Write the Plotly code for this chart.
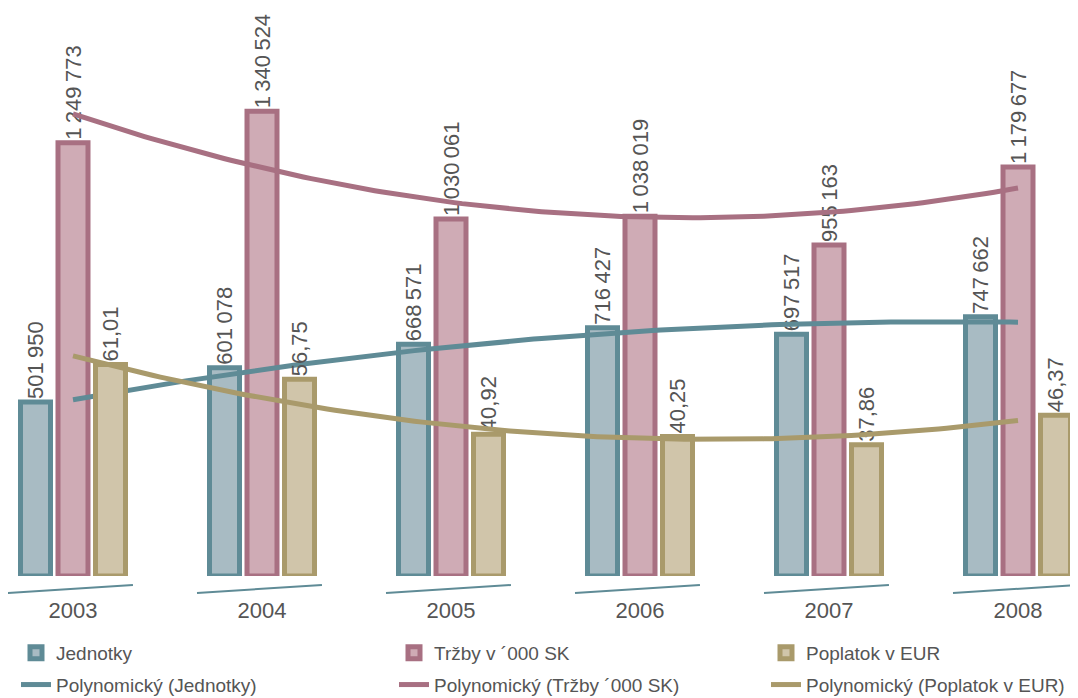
import numpy as np
import plotly.graph_objects as go

# ---------------- data ----------------
years = ["2003", "2004", "2005", "2006", "2007", "2008"]
jednotky = [501950, 601078, 668571, 716427, 697517, 747662]
trzby = [1249773, 1340524, 1030061, 1038019, 955163, 1179677]
poplatok = [61.01, 56.75, 40.92, 40.25, 37.86, 46.37]

name_j = "Jednotky"
name_t = "Tržby v \u00b4000 SK"
name_p = "Poplatok v EUR"
name_pj = "Polynomický (Jednotky)"
name_pt = "Polynomický (Tržby \u00b4000 SK)"
name_pp = "Polynomický (Poplatok v EUR)"

# ---------------- styles ----------------
TEAL_L, TEAL_F = "#5f8b96", "#a8bbc3"
PINK_L, PINK_F = "#a87082", "#cfabb5"
TAN_L, TAN_F = "#a99a6b", "#d0c5aa"
TXT = "#555555"
FONT = "Liberation Sans, Arial, sans-serif"

# page offset of the figure (browser body margin)
OFF = 8
W, H = 1078 - OFF, 698 - OFF
BASE = 576 - OFF        # baseline (plot bottom) in figure px
PLOT_H = BASE           # top margin 0
PX_PER_UNIT = 189       # px per category
CX0 = 73 - OFF          # centre of first category in figure px
Y_MAX = PLOT_H * 2885   # primary axis range top
Y2_MAX = Y_MAX / 10000  # secondary axis range top

x = np.arange(len(years))
BAR_W = 30 / PX_PER_UNIT
PITCH = 37.5 / PX_PER_UNIT


def fmt_int(v):
    return f"{v:,}".replace(",", "\u2009")


def fmt_dec(v):
    return f"{v:.2f}".replace(".", ",")


def trend(vals):
    coef = np.polyfit(x, vals, 2)
    xs = np.linspace(0, len(years) - 1, 120)
    return xs, np.polyval(coef, xs)


def py(ref_y):
    """reference page y (px) -> paper y of plot area"""
    return (PLOT_H - (ref_y - OFF)) / PLOT_H


fig = go.Figure()

bar_common = dict(width=BAR_W, textposition="outside", textangle=-90,
                  constraintext="none", cliponaxis=False,
                  textfont=dict(family=FONT, size=22, color=TXT),
                  hoverinfo="skip")

fig.add_trace(go.Bar(x=x, y=jednotky, name=name_j, offset=-PITCH - BAR_W / 2,
                     marker=dict(color=TEAL_F, line=dict(color=TEAL_L, width=5)),
                     text=[fmt_int(v) for v in jednotky], legend="legend",
                     legendgroup="a", **bar_common))
fig.add_trace(go.Bar(x=x, y=trzby, name=name_t, offset=-BAR_W / 2,
                     marker=dict(color=PINK_F, line=dict(color=PINK_L, width=5)),
                     text=[fmt_int(v) for v in trzby], legend="legend2",
                     legendgroup="c", **bar_common))
fig.add_trace(go.Bar(x=x, y=poplatok, name=name_p, offset=PITCH - BAR_W / 2,
                     marker=dict(color=TAN_F, line=dict(color=TAN_L, width=5)),
                     text=[fmt_dec(v) for v in poplatok], legend="legend3",
                     legendgroup="e", yaxis="y2", **bar_common))

xs, ys = trend(jednotky)
fig.add_trace(go.Scatter(x=xs, y=ys, mode="lines", name=name_pj, legend="legend",
                         legendgroup="b", line=dict(color=TEAL_L, width=5),
                         hoverinfo="skip"))
xs, ys = trend(trzby)
fig.add_trace(go.Scatter(x=xs, y=ys, mode="lines", name=name_pt, legend="legend2",
                         legendgroup="d", line=dict(color=PINK_L, width=5),
                         hoverinfo="skip"))
xs, ys = trend(poplatok)
fig.add_trace(go.Scatter(x=xs, y=ys, mode="lines", name=name_pp, legend="legend3",
                         legendgroup="f", yaxis="y2", line=dict(color=TAN_L, width=5),
                         hoverinfo="skip"))

# decorative slanted underlines below each year group
shapes = []
for i in range(len(years)):
    shapes.append(dict(type="line", xref="x", yref="paper",
                       x0=i - 0.344, x1=i + 0.317,
                       y0=py(593), y1=py(585),
                       line=dict(color="#5f8b96", width=2)))

LEG_Y = py(634)
leg_common = dict(orientation="v", yanchor="top", xanchor="left",
                  bgcolor="rgba(0,0,0,0)",
                  font=dict(family=FONT, size=19, color=TXT),
                  tracegroupgap=4, traceorder="grouped")


def lx(ref_x):
    return (ref_x - 14 - OFF) / W


fig.update_layout(
    width=W, height=H,
    margin=dict(l=0, r=0, t=0, b=H - PLOT_H, autoexpand=False),
    plot_bgcolor="white", paper_bgcolor="white",
    barmode="overlay",
    showlegend=True,
    xaxis=dict(range=[-CX0 / PX_PER_UNIT, (W - CX0) / PX_PER_UNIT],
               tickvals=list(x), ticktext=years,
               showgrid=False, zeroline=False, showline=False, ticks="",
               ticklabelstandoff=19, tickangle=0,
               tickfont=dict(family=FONT, size=22, color=TXT)),
    yaxis=dict(range=[0, Y_MAX], visible=False, showgrid=False, zeroline=False),
    yaxis2=dict(range=[0, Y2_MAX], visible=False, overlaying="y", showgrid=False,
                zeroline=False),
    legend=dict(x=lx(22 + OFF), y=LEG_Y, **leg_common),
    legend2=dict(x=lx(400 + OFF), y=LEG_Y, **leg_common),
    legend3=dict(x=lx(772 + OFF), y=LEG_Y, **leg_common),
    shapes=shapes,
)

fig.write_html("out.html")
